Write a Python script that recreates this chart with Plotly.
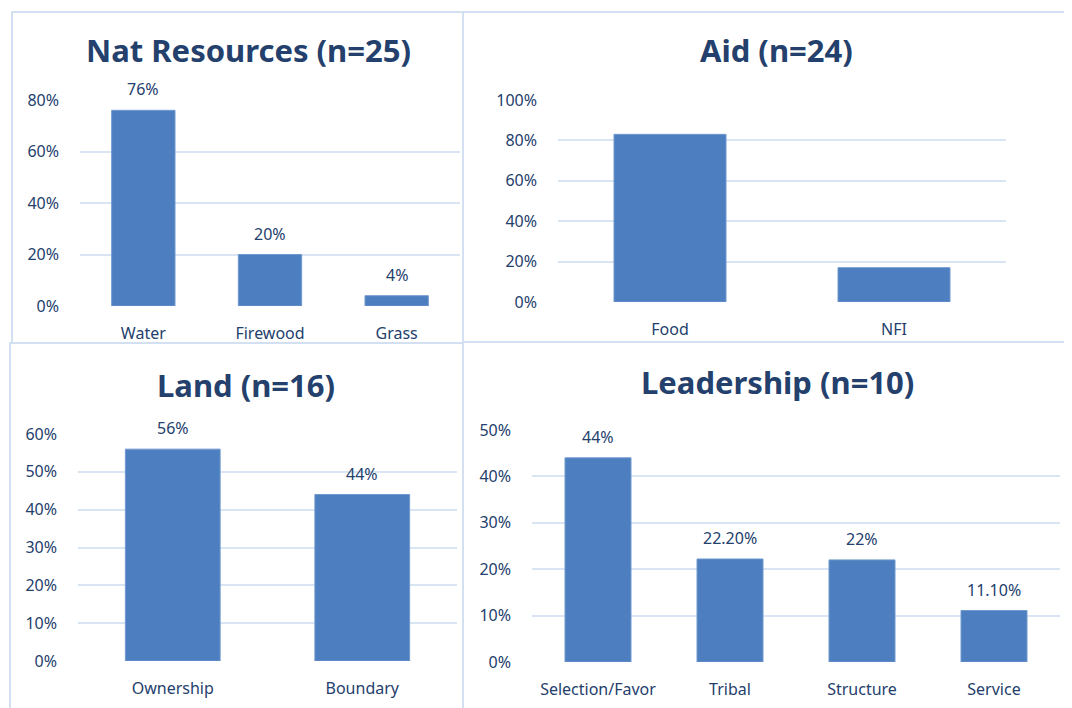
import plotly.graph_objects as go

W, H = 1072, 708
OFF = 8  # page body margin offset of the rendered figure

# ---- data ----
nat_categories = ["Water", "Firewood", "Grass"]
nat_values = [0.76, 0.20, 0.04]
nat_labels = ["76%", "20%", "4%"]
nat_ticks = [0, 0.2, 0.4, 0.6, 0.8]

aid_categories = ["Food", "NFI"]
aid_values = [0.83, 0.17]
aid_ticks = [0, 0.2, 0.4, 0.6, 0.8, 1.0]

land_categories = ["Ownership", "Boundary"]
land_values = [0.56, 0.44]
land_labels = ["56%", "44%"]
land_ticks = [0, 0.1, 0.2, 0.3, 0.4, 0.5, 0.6]

lead_categories = ["Selection/Favor", "Tribal", "Structure", "Service"]
lead_values = [0.44, 0.222, 0.22, 0.111]
lead_labels = ["44%", "22.20%", "22%", "11.10%"]
lead_ticks = [0, 0.1, 0.2, 0.3, 0.4, 0.5]

titles = ["Nat Resources (n=25)", "Aid (n=24)", "Land (n=16)", "Leadership (n=10)"]

# ---- styling ----
BAR = "#4d7ebf"
BAR_LINE = "#7099cf"
TEXT = "#24406c"
GRID = "#d9e5f3"
BORDER = "#d2e0f2"
FONT = "Noto Sans"
TICK_SIZE = 16
TITLE_SIZE = 31

def px_x(p):
    return (p - OFF) / W

def px_y(p):
    return 1 - (p - OFF) / H

# panel geometry (screen pixels)
panels = [
    dict(cats=nat_categories, vals=nat_values, labels=nat_labels, ticks=nat_ticks,
         x0=80, x1=460, ytop=100, ybot=306, title_x=248, title_y=50),
    dict(cats=aid_categories, vals=aid_values, labels=None, ticks=aid_ticks,
         x0=558, x1=1006, ytop=100, ybot=302, title_x=776, title_y=50),
    dict(cats=land_categories, vals=land_values, labels=land_labels, ticks=land_ticks,
         x0=78, x1=457, ytop=434, ybot=661, title_x=246, title_y=385),
    dict(cats=lead_categories, vals=lead_values, labels=lead_labels, ticks=lead_ticks,
         x0=532, x1=1060, ytop=430, ybot=662, title_x=777, title_y=382),
]

fig = go.Figure()
annotations = []

for i, p in enumerate(panels):
    n = i + 1
    xa = "x" if n == 1 else f"x{n}"
    ya = "y" if n == 1 else f"y{n}"
    fig.add_trace(go.Bar(
        x=p["cats"], y=p["vals"], xaxis=xa, yaxis=ya,
        marker=dict(color=BAR, line=dict(color=BAR_LINE, width=1)),
        width=0.5, showlegend=False, hoverinfo="skip",
    ))
    xkey = "xaxis" if n == 1 else f"xaxis{n}"
    ykey = "yaxis" if n == 1 else f"yaxis{n}"
    fig.update_layout(**{
        xkey: dict(
            domain=[px_x(p["x0"]), px_x(p["x1"])], anchor=ya,
            range=[-0.5, len(p["cats"]) - 0.5],
            showgrid=False, zeroline=False, showline=False,
            ticks="", ticklabelstandoff=16, automargin=False,
            tickfont=dict(family=FONT, size=TICK_SIZE, color=TEXT),
            fixedrange=True,
        ),
        ykey: dict(
            domain=[px_y(p["ybot"]), px_y(p["ytop"])], anchor=xa,
            range=[0, p["ticks"][-1]],
            tickvals=p["ticks"], tickformat=".0%",
            showgrid=True, gridcolor=GRID, gridwidth=1.5,
            zeroline=False, showline=False, ticks="",
            ticklabelstandoff=20, automargin=False,
            tickfont=dict(family=FONT, size=TICK_SIZE, color=TEXT),
            fixedrange=True,
        ),
    })
    annotations.append(dict(
        x=px_x(p["title_x"]), y=px_y(p["title_y"]), xref="paper", yref="paper",
        text=f"<b>{titles[i]}</b>", showarrow=False,
        font=dict(family=FONT, size=TITLE_SIZE, color=TEXT),
        xanchor="center", yanchor="middle",
    ))
    if p["labels"]:
        for c, v, t in zip(p["cats"], p["vals"], p["labels"]):
            annotations.append(dict(
                x=c, y=v, xref=xa, yref=ya, text=t, showarrow=False,
                yshift=21, yanchor="middle",
                font=dict(family=FONT, size=TICK_SIZE, color=TEXT),
            ))

shapes = [
    dict(type="rect", xref="paper", yref="paper",
         x0=px_x(12), x1=px_x(463), y0=px_y(343), y1=px_y(12),
         line=dict(color=BORDER, width=2)),
    dict(type="rect", xref="paper", yref="paper",
         x0=px_x(463), x1=px_x(1090), y0=px_y(342), y1=px_y(12),
         line=dict(color=BORDER, width=2)),
    dict(type="rect", xref="paper", yref="paper",
         x0=px_x(10), x1=px_x(463), y0=px_y(730), y1=px_y(343),
         line=dict(color=BORDER, width=2)),
    dict(type="rect", xref="paper", yref="paper",
         x0=px_x(463), x1=px_x(1090), y0=px_y(730), y1=px_y(342),
         line=dict(color=BORDER, width=2)),
]

fig.update_layout(
    width=W, height=H,
    margin=dict(l=0, r=0, t=0, b=0, pad=0),
    paper_bgcolor="white", plot_bgcolor="white",
    annotations=annotations, shapes=shapes,
    bargap=0.5, showlegend=False,
    font=dict(family=FONT, color=TEXT),
)

fig.write_html("out.html", config={"displayModeBar": False})
